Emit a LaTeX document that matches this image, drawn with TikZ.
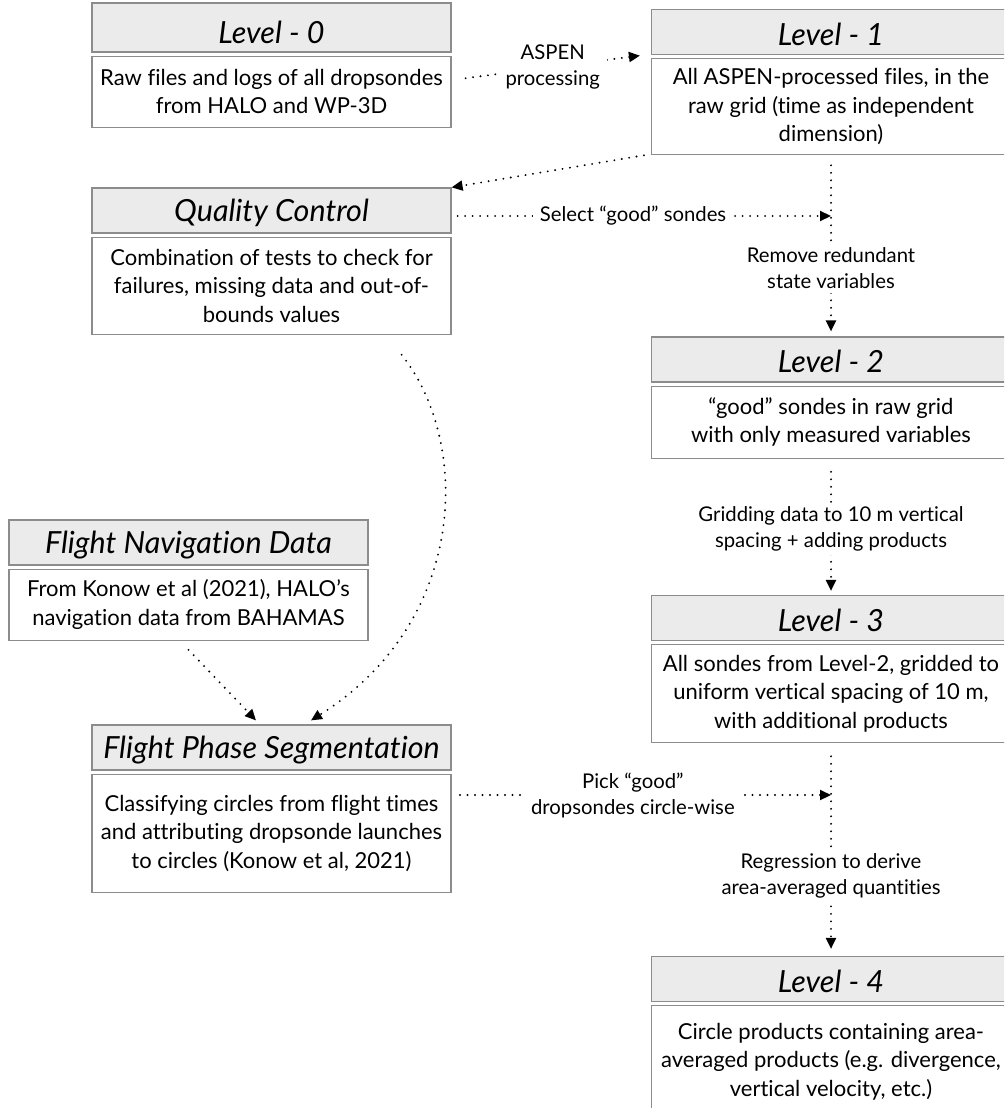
\documentclass[tikz,border=0pt]{standalone}
\usepackage{fontspec}
\setmainfont{Lato}[Ligatures=NoCommon]
\usetikzlibrary{arrows.meta,positioning}
\definecolor{boxgray}{RGB}{140,140,140}
\definecolor{headfill}{RGB}{235,235,235}

\begin{document}
\begin{tikzpicture}[
        x=1pt, y=1pt,
        head/.style={rectangle, draw=boxgray, fill=headfill, line width=1.2pt, minimum width=359pt, minimum height=45pt, inner sep=0pt, text height=27pt, font=\fontsize{30.5}{34}\selectfont\itshape},
        body/.style={rectangle, draw=boxgray, fill=white, line width=1.2pt, minimum width=359pt, inner sep=0pt, align=center, font=\fontsize{22}{28.5}\selectfont, below=3pt of #1},
        flow/.style={line width=2.1pt, line cap=round, dash pattern=on 0pt off 7.5pt, -{Triangle[length=11pt,width=10pt]}},
        lbl/.style={fill=white, align=center, inner xsep=7pt, inner ysep=4pt, font=\fontsize{20.3}{26}\selectfont}
    ]
        \clip (0,0) rectangle (1004,-1108);

        % left column
        \node[head, minimum height=49pt, text height=32pt] (h0) at (271.5,-27.5) {Level - 0};
        \node[body=h0, minimum height=71pt] (b0) {Raw files and logs of all dropsondes\\from HALO and WP-3D};
        \node[head] (hq) at (271.5,-210.5) {Quality Control};
        \node[body=hq, minimum height=97pt] (bq) {Combination of tests to check for\\failures, missing data and out-of-\\bounds values};
        \node[head] (hn) at (188.5,-542.5) {Flight Navigation Data};
        \node[body=hn, minimum height=71pt] (bn) {From Konow et al (2021), HALO’s\\navigation data from BAHAMAS};
        \node[head] (hf) at (271.5,-747.5) {Flight Phase Segmentation};
        \node[body=hf, minimum height=118pt] (bf) {Classifying circles from flight times\\and attributing dropsonde launches\\to circles (Konow et al, 2021)};

        % right column
        \node[head] (h1) at (831,-32) {Level - 1};
        \node[body=h1, minimum height=96pt] (b1) {All ASPEN-processed files, in the\\raw grid (time as independent\\dimension)};
        \node[head] (h2) at (831,-359.5) {Level - 2};
        \node[body=h2, minimum height=72pt] (b2) {“good” sondes in raw grid\\with only measured variables};
        \node[head] (h3) at (831,-618) {Level - 3};
        \node[body=h3, minimum height=98pt] (b3) {All sondes from Level-2, gridded to\\uniform vertical spacing of 10 m,\\with additional products};
        \node[head] (h4) at (831,-979) {Level - 4};
        \node[body=h4, minimum height=112pt] (b4) {Circle products containing area-\\averaged products (e.g. divergence,\\vertical velocity, etc.)};

        \coordinate (j1) at (831,-216);
        \coordinate (j3) at (831,-795);
        \coordinate (p3) at (460,-795);

        \draw[flow] ([shift={(14pt,13.5pt)}]b0.east) -- ([shift={(-11pt,-0.5pt)}]b1.west |- h1.south) node[lbl, midway] {ASPEN\\processing};
        \draw[flow] ([xshift=-7pt]b1.south west) -- (hq.north east);
        \draw[flow] ([yshift=-10pt]b1.south) -- ([yshift=5pt]h2.north) node[lbl, pos=0.62] {Remove redundant\\state variables};
        \draw[flow] ([shift={(6pt,-5.5pt)}]hq.east) -- (j1) node[lbl, pos=0.47] {Select “good” sondes};
        \draw[flow] ([yshift=-13pt]b2.south) -- ([yshift=4pt]h3.north) node[lbl, pos=0.48] {Gridding data to 10 m vertical\\spacing + adding products};
        \draw[flow] ([yshift=-13pt]b3.south) -- ([yshift=7pt]h4.north) node[lbl, pos=0.62] {Regression to derive\\area-averaged quantities};
        \draw[flow] (p3) -- (j3) node[lbl, pos=0.466] {Pick “good”\\dropsondes circle-wise};

        \draw[flow] ([yshift=-9pt]bn.south) -- ([shift={(-15.5pt,4pt)}]hf.north);
        \draw[flow] ([shift={(-50pt,-20pt)}]bq.south east) .. controls (470,-440) and (470,-620) .. ([shift={(39.5pt,4pt)}]hf.north);
    \end{tikzpicture}
\end{document}
